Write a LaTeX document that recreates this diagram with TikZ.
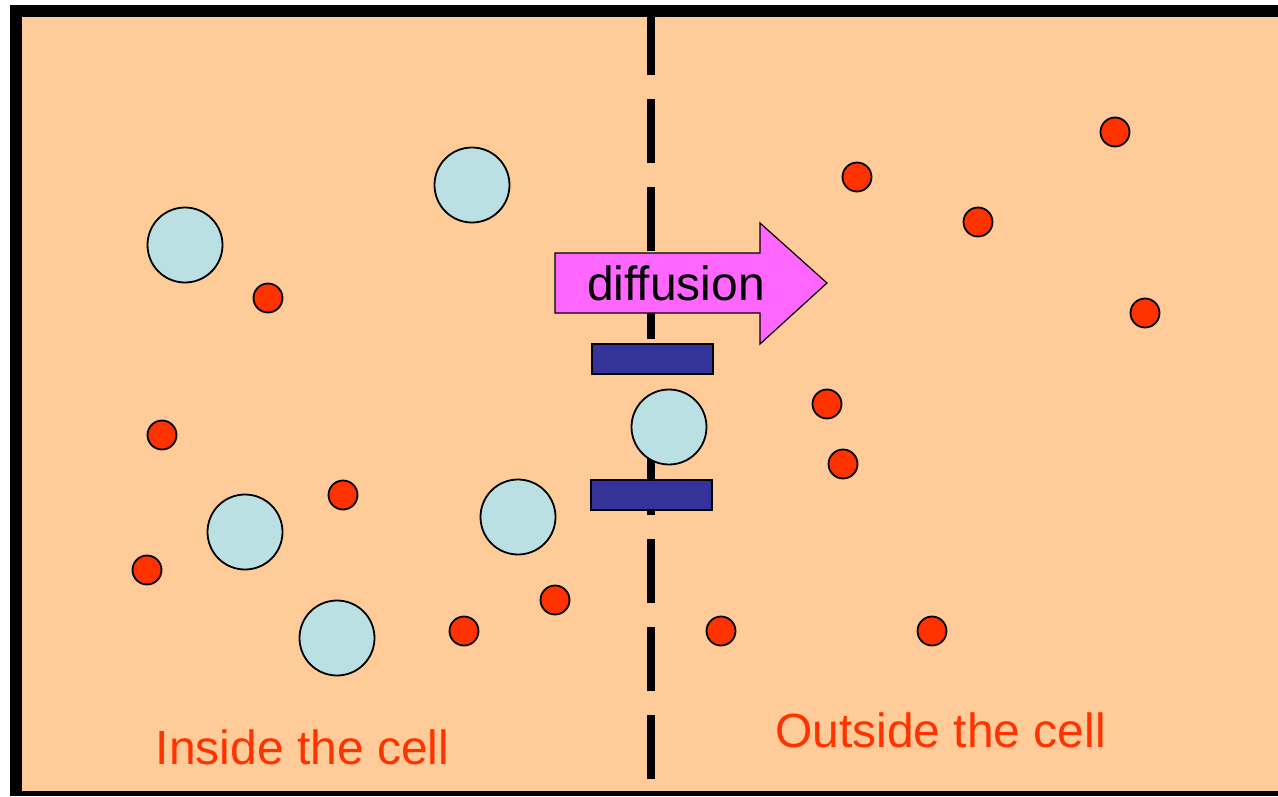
\documentclass[tikz,border=0pt]{standalone}
\usepackage{fontspec}
\setmainfont{Liberation Sans}
\definecolor{cellorange}{HTML}{FFCC99}
\definecolor{solblue}{HTML}{BBE0E3}
\definecolor{ionred}{HTML}{FF3300}
\definecolor{gateblue}{HTML}{333399}
\definecolor{arrowpink}{HTML}{FF66FF}
\tikzset{
  solute/.style={circle, draw=black, fill=solblue, line width=1.8pt, minimum size=75pt, inner sep=0pt},
  ion/.style={circle, draw=black, fill=ionred, line width=1.8pt, minimum size=29pt, inner sep=0pt},
  membrane/.style={line width=8pt, dash pattern=on 64pt off 24pt},
  gate/.style={draw=black, fill=gateblue, line width=1.5pt},
  sidetext/.style={font=\fontsize{48}{56}\selectfont, text=ionred, anchor=base, inner sep=0pt},
}

\begin{document}
\begin{tikzpicture}[x=1pt, y=-1pt]
  \useasboundingbox (0,0) rectangle (1278,796);
  \clip (0,0) rectangle (1278,796);
  % frame and cell interior
  \fill[black] (10,5) rectangle (1290,796);
  \fill[cellorange] (22,17) rectangle (1290,791);
  % membrane
  \draw[membrane] (651,11) -- (651,341);
  \draw[membrane] (651,451) -- (651,791);
  % diffusion arrow
  \draw[fill=arrowpink, line width=1.2pt] (555,253) -- (760,253) -- (760,223) -- (827,283)
    -- (760,344) -- (760,313) -- (555,313) -- cycle;
  \node[font=\fontsize{48}{56}\selectfont, anchor=base, inner sep=0pt] (diff) at (676,300) {diffusion};
  % channel
  \draw[gate] (592,344) rectangle (713,374);
  \draw[gate] (591,480) rectangle (712,510);
  \node[solute] (sch) at (669,427) {};
  % large molecules
  \node[solute] (s1) at (185,245) {};
  \node[solute] (s2) at (472,185) {};
  \node[solute] (s3) at (245,532) {};
  \node[solute] (s4) at (518,517) {};
  \node[solute] (s5) at (337,638) {};
  % small particles inside
  \node[ion] (in1) at (268,298) {};
  \node[ion] (in2) at (162,435) {};
  \node[ion] (in3) at (343,495) {};
  \node[ion] (in4) at (147,570) {};
  \node[ion] (in5) at (464,631) {};
  \node[ion] (in6) at (555,600) {};
  % small particles outside
  \node[ion] (out1) at (857,177) {};
  \node[ion] (out2) at (978,222) {};
  \node[ion] (out3) at (1115,132) {};
  \node[ion] (out4) at (1145,313) {};
  \node[ion] (out5) at (827,404) {};
  \node[ion] (out6) at (843,464) {};
  \node[ion] (out7) at (721,631) {};
  \node[ion] (out8) at (932,631) {};
  % labels
  \node[sidetext] (inside) at (302.5,764) {Inside the cell};
  \node[sidetext] (outside) at (940.5,747) {Outside the cell};
\end{tikzpicture}
\end{document}
